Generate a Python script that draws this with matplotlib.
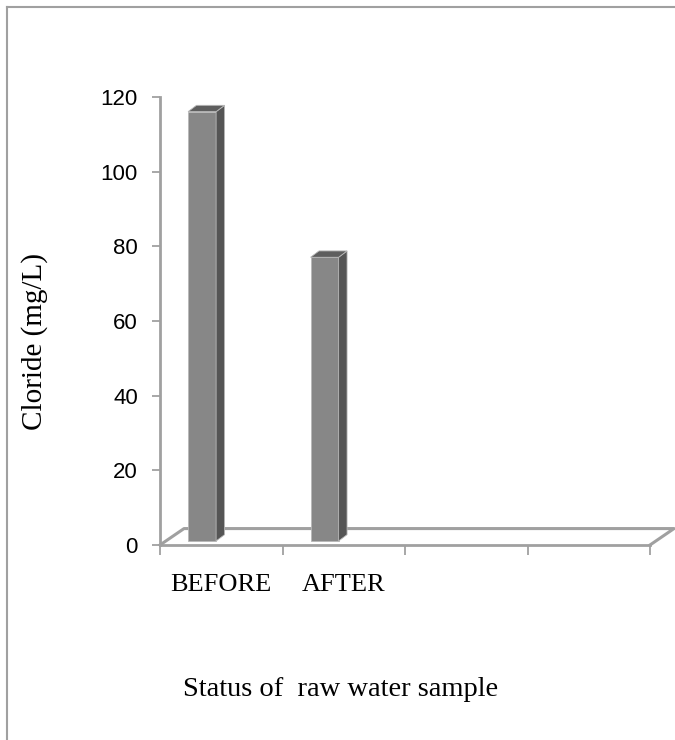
import matplotlib
matplotlib.use("Agg")
import matplotlib.pyplot as plt
from matplotlib.patches import Polygon, Rectangle
from matplotlib.lines import Line2D

# data
categories = ["BEFORE", "AFTER", "", ""]
values = [115, 76]
y_ticks = [0, 20, 40, 60, 80, 100, 120]
y_label = "Cloride (mg/L)"
x_title = "Status of  raw water sample"

W, H = 675, 740
fig = plt.figure(figsize=(W / 100, H / 100), dpi=100)
fig.patch.set_facecolor("white")

# axes placed so the floor front edge / value axis line up with the picture
ax = fig.add_axes([160 / W, (H - 545) / H, 490 / W, 448 / H])
ax.set_xlim(0, len(categories))
ax.set_ylim(0, 120)
ax.set_facecolor("none")

axis_grey = "#a0a0a0"
for side in ["top", "right"]:
    ax.spines[side].set_visible(False)
ax.spines["left"].set_color(axis_grey)
ax.spines["left"].set_linewidth(2)
ax.spines["bottom"].set_color(axis_grey)
ax.spines["bottom"].set_linewidth(2)

ax.set_yticks(y_ticks)
ax.tick_params(axis="y", direction="out", length=6, width=1.3, color=axis_grey,
               pad=10, labelsize=16)
for lab in ax.get_yticklabels():
    lab.set_fontfamily("Liberation Sans")

ax.set_xticks(range(len(categories) + 1))
ax.set_xticklabels([])
ax.tick_params(axis="x", which="major", direction="out", length=7, width=1.3,
               color=axis_grey)
ax.set_xticks([i + 0.5 for i in range(len(categories))], minor=True)
ax.set_xticklabels(categories, minor=True, fontfamily="Liberation Serif", fontsize=19)
ax.tick_params(axis="x", which="minor", length=0, pad=21)

# 3D floor (back edge + side edges)
fdx, fdy = 0.196, 4.4
n = len(categories)
ax.plot([0, fdx, n + fdx, n], [0, fdy, fdy, 0], color=axis_grey, lw=2.2,
        clip_on=False, zorder=1)

# 3D columns
bw = 0.229
bdx, bdy = 0.069, 1.7
base = 1.07
for i, v in enumerate(values):
    x0 = i + 0.229
    ax.add_patch(Rectangle((x0, base), bw, v, facecolor="#878787",
                           edgecolor="#b8b8b8", lw=0.6, zorder=3, clip_on=False))
    ax.add_patch(Polygon([(x0 + bw, base), (x0 + bw + bdx, base + bdy),
                          (x0 + bw + bdx, base + v + bdy), (x0 + bw, base + v)],
                         closed=True, facecolor="#555555", edgecolor="#b8b8b8",
                         lw=0.6, zorder=3, clip_on=False))
    ax.add_patch(Polygon([(x0, base + v), (x0 + bdx, base + v + bdy),
                          (x0 + bw + bdx, base + v + bdy), (x0 + bw, base + v)],
                         closed=True, facecolor="#5e5e5e", edgecolor="#b8b8b8",
                         lw=0.6, zorder=3, clip_on=False))

fig.text(35 / W, 1 - 341 / H, y_label, rotation=90, ha="center", va="center",
         fontfamily="Liberation Serif", fontsize=21)
fig.text(341 / W, 1 - 690 / H, x_title, ha="center", va="center",
         fontfamily="Liberation Serif", fontsize=20.5)

# chart border (top and left visible)
fig.add_artist(Line2D([7 / W, 1], [1 - 7 / H, 1 - 7 / H], color=axis_grey, lw=1.5))
fig.add_artist(Line2D([7 / W, 7 / W], [0, 1 - 7 / H], color=axis_grey, lw=1.5))

fig.savefig("out.png", dpi=100)
